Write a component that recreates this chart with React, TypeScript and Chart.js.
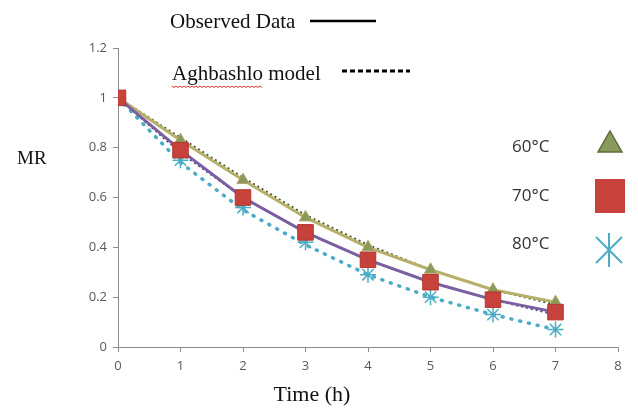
import React, { useEffect, useRef } from "react";
import { Chart, registerables } from "chart.js";

Chart.register(...registerables);

const timeH = [0, 1, 2, 3, 4, 5, 6, 7];
const obs60 = [1, 0.83, 0.67, 0.52, 0.4, 0.31, 0.23, 0.18];
const model60 = [1, 0.84, 0.68, 0.53, 0.41, 0.31, 0.23, 0.17];
const obs70 = [1, 0.79, 0.6, 0.46, 0.35, 0.26, 0.19, 0.14];
const model70 = [1, 0.78, 0.6, 0.46, 0.35, 0.26, 0.19, 0.13];
const obs80 = [1, 0.75, 0.56, 0.42, 0.29, 0.2, 0.13, 0.07];
const model80 = [1, 0.74, 0.55, 0.41, 0.29, 0.2, 0.13, 0.07];
const tempLabels = ["60\u00B0C", "70\u00B0C", "80\u00B0C"];

const pts = (ys: number[]) => timeH.map((x, i) => ({ x, y: ys[i] }));

const overlay = {
  id: "overlay",
  afterDraw(chart: any) {
    const ctx = chart.ctx as CanvasRenderingContext2D;
    ctx.save();
    // top legend
    ctx.fillStyle = "#111";
    ctx.font = "21px 'Liberation Serif'";
    ctx.textBaseline = "alphabetic";
    ctx.textAlign = "left";
    ctx.fillText("Observed Data", 170, 28);
    ctx.strokeStyle = "#000";
    ctx.lineWidth = 2.5;
    ctx.beginPath();
    ctx.moveTo(310, 21);
    ctx.lineTo(376, 21);
    ctx.stroke();
    ctx.fillText("Aghbashlo model", 172, 80);
    // red spelling underline
    const w = ctx.measureText("Aghbashlo").width;
    ctx.strokeStyle = "#e03030";
    ctx.lineWidth = 1;
    ctx.beginPath();
    for (let x = 172, k = 0; x <= 172 + w; x += 2, k++) {
      const y = 86 + (k % 2 === 0 ? 0 : 1.5);
      if (k === 0) ctx.moveTo(x, y);
      else ctx.lineTo(x, y);
    }
    ctx.stroke();
    ctx.strokeStyle = "#000";
    ctx.lineWidth = 3;
    ctx.setLineDash([5, 3]);
    ctx.beginPath();
    ctx.moveTo(342, 71);
    ctx.lineTo(410, 71);
    ctx.stroke();
    ctx.setLineDash([]);

    // MR axis label
    ctx.font = "19px 'Liberation Serif'";
    ctx.fillStyle = "#111";
    ctx.textBaseline = "middle";
    ctx.fillText("MR", 17, 159);
    // Time (h)
    ctx.font = "22px 'Liberation Serif'";
    ctx.textAlign = "center";
    ctx.fillText("Time (h)", 312, 395);

    // right legend
    ctx.textAlign = "left";
    ctx.font = "17px 'Open Sans'";
    ctx.fillStyle = "#333";
    const ys = [147, 196, 244];
    tempLabels.forEach((t, i) => ctx.fillText(t, 512, ys[i]));

    // triangle
    ctx.fillStyle = "#8a9a5b";
    ctx.strokeStyle = "#5f6b3a";
    ctx.lineWidth = 1.5;
    ctx.beginPath();
    ctx.moveTo(610, 131);
    ctx.lineTo(622, 152);
    ctx.lineTo(598, 152);
    ctx.closePath();
    ctx.fill();
    ctx.stroke();
    // square
    ctx.fillStyle = "#c8423c";
    ctx.fillRect(595, 179, 30, 34);
    // asterisk
    ctx.strokeStyle = "#4bacc6";
    ctx.lineWidth = 2;
    const cx = 609, cy = 250;
    ctx.beginPath();
    ctx.moveTo(cx, cy - 17);
    ctx.lineTo(cx, cy + 17);
    ctx.moveTo(cx - 13, cy - 13);
    ctx.lineTo(cx + 13, cy + 13);
    ctx.moveTo(cx + 13, cy - 13);
    ctx.lineTo(cx - 13, cy + 13);
    ctx.stroke();
    ctx.restore();
  },
};

export default function App() {
  const ref = useRef<HTMLCanvasElement | null>(null);
  useEffect(() => {
    if (!ref.current) return;
    const chart = new Chart(ref.current, {
      type: "line",
      data: {
        datasets: [
          {
            label: "70 obs",
            data: pts(obs70),
            borderColor: "#7b5fa0",
            borderWidth: 3,
            pointStyle: "rect",
            pointRadius: 11,
            pointBackgroundColor: "#c8423c",
            pointBorderColor: "#b0382f",
            pointBorderWidth: 1,
            order: 1,
          },
          {
            label: "70 model",
            data: pts(model70),
            borderColor: "#3b3f80",
            borderWidth: 2,
            borderDash: [2, 3],
            pointRadius: 0,
            order: 2,
          },
          {
            label: "60 obs",
            data: pts(obs60),
            borderColor: "#b7b06a",
            borderWidth: 3,
            pointStyle: "triangle",
            pointRadius: 7,
            pointBackgroundColor: "#8a9a5b",
            pointBorderColor: "#b5a36a",
            pointBorderWidth: 1,
            order: 3,
          },
          {
            label: "60 model",
            data: pts(model60),
            borderColor: "#4d5a35",
            borderWidth: 2,
            borderDash: [2, 3],
            pointRadius: 0,
            order: 4,
          },
          {
            label: "80 obs",
            data: pts(obs80),
            borderColor: "#4bacc6",
            borderWidth: 2,
            pointStyle: "star",
            pointRadius: 8,
            pointBorderColor: "#4bacc6",
            pointBorderWidth: 1.5,
            showLine: false,
            order: 5,
          },
          {
            label: "80 model",
            data: pts(model80),
            borderColor: "#4bacc6",
            borderWidth: 3.5,
            borderDash: [1, 8],
            borderCapStyle: "round",
            pointRadius: 0,
            order: 6,
          },
        ],
      },
      options: {
        animation: false,
        responsive: false,
        maintainAspectRatio: false,
        layout: { padding: { left: 0, right: 20, top: 48, bottom: 0 } },
        plugins: { legend: { display: false }, tooltip: { enabled: false } },
        scales: {
          x: {
            type: "linear",
            min: 0,
            max: 8,
            ticks: { stepSize: 1, color: "#595959", font: { family: "'Open Sans'", size: 13 }, padding: 6 },
            grid: { display: true, drawOnChartArea: false, drawTicks: true, tickLength: 5, color: "#8c8c8c" },
            border: { color: "#8c8c8c", width: 1 },
            afterFit: (a: any) => { a.height = 61; },
          },
          y: {
            min: 0,
            max: 1.2,
            ticks: { stepSize: 0.2, color: "#595959", font: { family: "'Open Sans'", size: 13 }, padding: 6,
              callback: (v: any) => String(Math.round(Number(v) * 10) / 10) },
            grid: { display: true, drawOnChartArea: false, drawTicks: true, tickLength: 5, color: "#8c8c8c" },
            border: { color: "#8c8c8c", width: 1 },
            afterFit: (a: any) => { a.width = 118; },
          },
        },
      },
      plugins: [overlay],
    });
    return () => chart.destroy();
  }, []);
  return (
    <div style={{ position: "absolute", left: 0, top: 0, width: 638, height: 408, background: "#fff" }}>
      <canvas ref={ref} width={638} height={408} />
    </div>
  );
}
